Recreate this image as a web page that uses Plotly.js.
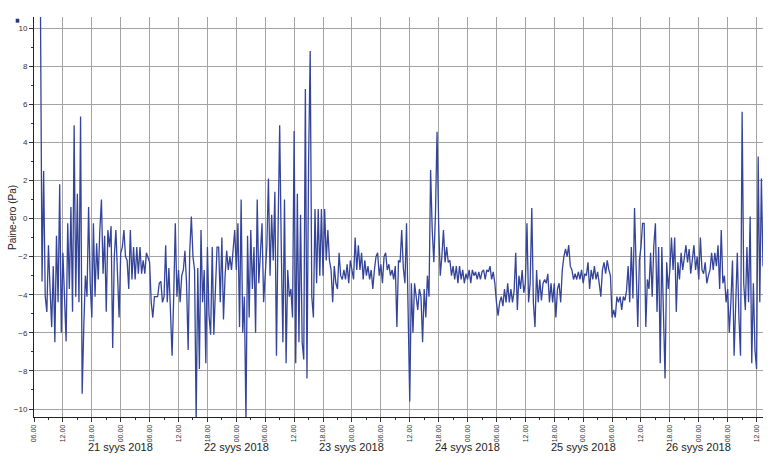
<!DOCTYPE html>
<html>
<head>
<meta charset="utf-8">
<script src="https://cdn.plot.ly/plotly-3.0.1.min.js"></script>
<style>
  html, body { margin: 0; padding: 0; background: #ffffff; }
  #chart { width: 784px; height: 468px; }
</style>
</head>
<body>
<div id="chart"></div>
<script>
// Sampling of the logger: first reading and interval (minutes)
const startTime = '2018-09-20 07:20';
const stepMinutes = 20;

// Pressure difference readings (Pa)
const paineEro = [
  11.5,-3.3,2.5,-4.1,-4.9,-1.4,-3.7,-5.7,-2.5,-6.5,
  -0.9,-4.4,1.8,-6.0,-1.8,-4.6,-6.45,-0.25,-3.7,0.6,
  -4.9,4.9,-4.1,1.3,-4.4,5.35,-9.2,-5.7,-3.0,-4.1,
  0.6,-3.4,-5.2,-0.25,-4.1,-1.3,-3.2,-0.6,1.0,-2.9,
  -0.9,-4.9,-0.6,-1.5,-0.4,-6.8,-2.0,-0.6,-2.5,-5.2,
  -1.8,-1.5,-0.6,-2.0,-2.2,-3.7,-0.6,-3.2,-1.5,-3.2,
  -1.5,-2.9,-1.5,-2.9,-2.2,-2.9,-1.8,-2.1,-2.3,-4.4,
  -5.2,-4.1,
  -4.1,-4.1,-3.4,-3.3,-4.4,-4.1,-1.4,-4.4,-2.6,-5.2,
  -7.2,-4.1,-0.25,-4.1,-2.7,-4.4,-3.0,-2.7,-1.7,-3.4,
  -6.9,-1.7,0.1,-2.0,-2.7,-10.6,-2.6,-7.9,-0.6,-4.4,
  -2.7,-7.6,-1.5,-5.1,-6.1,-1.5,-6.1,-3.7,-1.5,-1.5,
  -4.4,-1.0,-5.3,-3.0,-1.7,-2.7,-2.0,-2.7,-1.5,-0.6,
  -2.7,-0.25,-5.7,1.0,-6.0,-4.1,-10.6,-0.9,-5.2,-0.6,
  -3.7,-1.5,-6.0,1.0,-3.4,-2.0,-0.25,-4.4,-2.7,-1.5,
  2.1,-3.0,0.2,-2.2,1.4,-7.2,
  -0.6,4.9,-1.6,-6.5,1.0,-7.6,-2.7,-4.1,-3.7,-5.2,
  4.6,-7.6,1.3,-6.5,0.2,-6.5,-7.4,6.8,-8.4,2.9,
  8.8,-4.1,-5.2,0.5,-3.4,0.5,-3.0,0.5,-3.0,0.5,
  -2.2,-0.6,-2.2,-2.7,-4.4,-2.5,-3.4,-3.7,-1.8,-3.0,
  -3.2,-2.7,-3.2,-2.4,-3.4,-2.2,-2.7,-3.2,-1.0,-2.7,
  -1.4,-2.7,-1.8,-3.2,-2.2,-3.0,-2.5,-3.2,-2.7,-3.7,
  -2.7,-2.0,-1.8,-3.0,-2.4,-3.4,-2.0,-1.8,-2.7,-2.4,
  -3.0,-2.7,-3.2,-2.5,-5.7,-2.2,
  -2.3,-0.6,-2.6,-3.4,-0.25,-4.4,-9.6,-3.4,-6.0,-3.4,
  -4.1,-4.8,-3.7,-4.1,-6.5,-3.7,-5.2,-3.0,-4.1,2.55,
  -0.6,-2.3,0.2,4.55,-0.25,-3.0,-2.0,-0.6,-2.3,-1.5,
  -2.3,-2.2,-3.0,-2.5,-3.2,-2.5,-3.4,-2.5,-3.2,-2.7,
  -3.4,-2.9,-3.2,-2.7,-3.4,-2.7,-3.0,-2.8,-3.2,-2.8,
  -3.2,-2.8,-2.7,-3.2,-2.7,-2.8,-2.5,-3.2,-2.8,-3.4,
  -4.4,-5.1,-4.4,-4.1,-4.6,-3.7,-4.4,-3.4,-4.4,-3.7,
  -4.4,-3.8,-1.8,-4.8,-3.0,-3.7,
  -2.7,-3.9,-3.4,-0.25,-4.4,-3.4,0.55,-4.4,-5.7,-2.7,
  -4.4,-3.2,-4.3,-3.4,-3.2,-3.4,-2.9,-4.4,-3.4,-4.4,
  -3.4,-5.2,-3.7,-3.4,-4.4,-2.7,-2.0,-1.6,-2.0,-1.4,
  -2.5,-2.7,-3.2,-2.9,-3.2,-2.8,-3.2,-2.7,-3.4,-2.9,
  -3.0,-2.3,-3.7,-2.7,-3.2,-2.5,-3.2,-2.8,-3.4,-4.1,
  -2.7,-2.3,-2.9,-2.2,-2.7,-3.0,-5.2,-4.8,-5.2,-4.1,
  -4.4,-4.1,-4.8,-4.1,-4.3,-3.8,-2.5,-4.4,-1.5,-4.2,
  0.55,-3.4,-5.7,-2.2,-1.5,-0.25,
  -0.25,-5.7,-3.2,-3.7,-1.8,-4.1,-1.4,-0.25,-4.9,-1.5,
  -7.6,-1.5,-5.7,-8.4,-2.3,-3.7,-2.7,-1.0,-2.7,-1.0,
  -4.9,-2.3,-3.2,-1.8,-2.7,-2.0,-1.4,-2.3,-1.6,-2.9,
  -2.0,-1.4,-2.7,-2.0,-3.2,-1.0,-2.7,-2.9,-2.3,-3.4,
  -3.0,-2.7,-1.8,-2.7,-1.8,-2.5,-1.4,-3.7,-0.6,-3.4,
  -3.0,-4.4,-3.7,-6.0,-4.4,-2.2,-7.2,-4.4,-1.8,-5.2,
  -7.2,5.6,-3.4,-4.8,-1.5,-4.4,0.1,-7.6,-3.4,-6.9,
  -7.9,3.25,-4.4,2.1,-2.5
];

// Day labels under the hour ticks (centred on midnight)
const dayDates = ['2018-09-21','2018-09-22','2018-09-23','2018-09-24','2018-09-25','2018-09-26'];
const dayLabels = ['21 syys 2018','22 syys 2018','23 syys 2018','24 syys 2018','25 syys 2018','26 syys 2018'];
const yTitle = 'Paine-ero (Pa)';

const xRange = ['2018-09-20 06:00', '2018-09-26 13:20'];
const yRange = [-10.42, 10.58];

function fmt(ms) {
  return new Date(ms).toISOString().slice(0, 16).replace('T', ' ');
}
const t0 = Date.parse(startTime.replace(' ', 'T') + ':00Z');
const times = paineEro.map((_, i) => fmt(t0 + i * stepMinutes * 60000));

const lineColor = '#34449a';
const fontFamily = 'Liberation Sans, Arial, sans-serif';

const trace = {
  type: 'scatter',
  mode: 'lines',
  x: times,
  y: paineEro,
  line: { color: lineColor, width: 1.3 },
  showlegend: false,
  hoverinfo: 'skip'
};

const annotations = dayDates.map((d, i) => ({
  x: d + ' 00:00',
  xref: 'x',
  y: 0,
  yref: 'paper',
  yanchor: 'top',
  xanchor: 'center',
  yshift: -22,
  showarrow: false,
  text: dayLabels[i],
  font: { size: 11, color: '#222222' }
}));
annotations.push({
  x: -0.0302, xref: 'paper',
  y: 0.5, yref: 'paper',
  xanchor: 'center', yanchor: 'middle',
  textangle: -90,
  showarrow: false,
  text: yTitle,
  font: { size: 10, color: '#222222' }
});

const layout = {
  width: 784,
  height: 468,
  margin: { l: 34, r: 21, t: 17, b: 51 },
  paper_bgcolor: '#ffffff',
  plot_bgcolor: '#ffffff',
  font: { family: fontFamily, color: '#222222' },
  xaxis: {
    type: 'date',
    range: xRange,
    tick0: '2018-09-20 00:00',
    dtick: 6 * 3600 * 1000,
    tickformat: '%H.%M',
    tickangle: -90,
    tickfont: { family: fontFamily, size: 7, color: '#333333' },
    ticks: 'outside',
    ticklen: 4,
    tickcolor: '#333333',
    showline: true,
    linecolor: '#222222',
    linewidth: 1,
    showgrid: true,
    gridcolor: '#a3a3a3',
    gridwidth: 1,
    zeroline: false,
    automargin: false,
    minor: { dtick: 3 * 3600 * 1000, ticks: 'outside', ticklen: 2, tickcolor: '#333333', showgrid: false }
  },
  yaxis: {
    range: yRange,
    tick0: 0,
    dtick: 2,
    tickfont: { family: fontFamily, size: 8, color: '#333333' },
    ticks: 'outside',
    ticklen: 4,
    tickcolor: '#333333',
    showline: true,
    linecolor: '#222222',
    linewidth: 1,
    showgrid: true,
    gridcolor: '#a3a3a3',
    gridwidth: 1,
    zeroline: false,
    automargin: false,
    minor: { dtick: 1, ticks: 'outside', ticklen: 2, tickcolor: '#333333', showgrid: false }
  },
  annotations: annotations,
  shapes: [{
    type: 'rect',
    xref: 'paper', yref: 'paper',
    x0: -0.0251, x1: -0.0202, y0: 0.9858, y1: 0.9957,
    fillcolor: '#2b3a85',
    line: { width: 0 }
  }]
};

Plotly.newPlot('chart', [trace], layout, { displayModeBar: false, staticPlot: true });
</script>
</body>
</html>
